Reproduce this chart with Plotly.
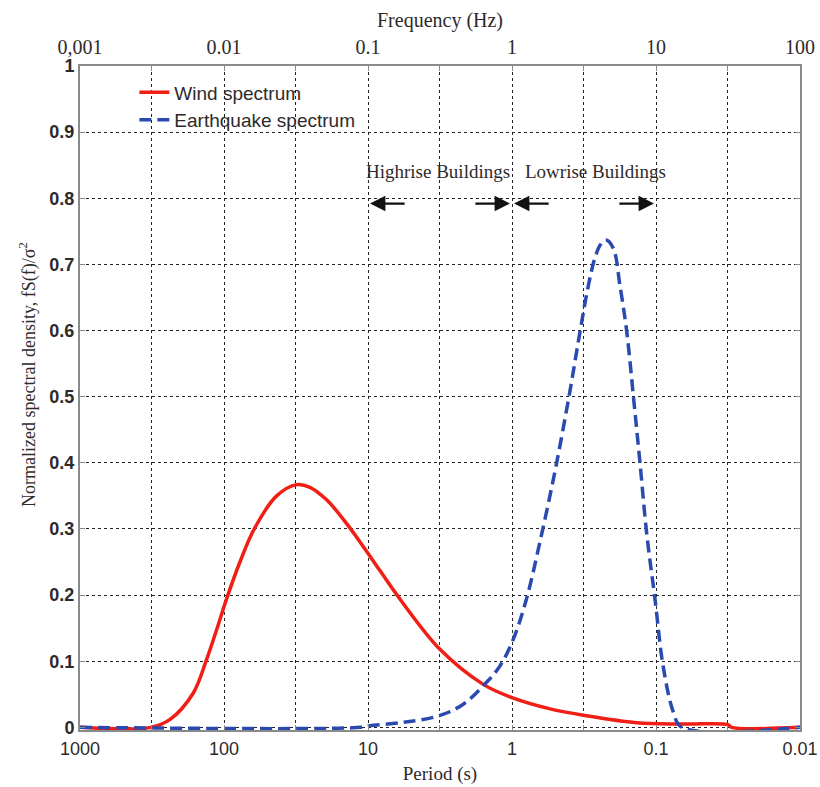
import math
import plotly.graph_objects as go

# ---------------- data ----------------
wind_freq = [0.001, 0.00311, 0.00422, 0.00612, 0.0075, 0.0089, 0.01045, 0.0129, 0.0164,
             0.0232, 0.032, 0.0395, 0.0516, 0.0711, 0.0929, 0.121, 0.176, 0.316,
             0.631, 1.0, 1.84, 3.21, 7.35, 15.8, 31.6, 33.5, 100]
wind_psd = [0, 0, 0.012, 0.052, 0.1, 0.148, 0.195, 0.25, 0.302,
            0.35, 0.367, 0.363, 0.344, 0.308, 0.273, 0.237, 0.187, 0.118,
            0.065, 0.045, 0.028, 0.018, 0.007, 0.005, 0.004, 0, 0]

quake_freq = [0.001, 0.089, 0.103, 0.176, 0.316, 0.459, 0.632, 0.826, 1.02, 1.26,
              1.58, 2.0, 2.51, 2.95, 3.39, 3.77, 4.12, 4.5, 5.06, 5.62, 6.25,
              6.97, 7.74, 8.61, 9.84, 11.2, 13.2, 15.1, 100]
quake_psd = [0, 0, 0.0025, 0.0075, 0.018, 0.035, 0.063, 0.093, 0.133, 0.194,
             0.285, 0.39, 0.505, 0.595, 0.668, 0.71, 0.73, 0.737, 0.724, 0.668, 0.60,
             0.50, 0.40, 0.294, 0.194, 0.093, 0.023, 0, 0]

# axis ticks: grid every half decade, labels every decade
grid_freq = [0.001, 0.00316, 0.01, 0.0316, 0.1, 0.316, 1, 3.16, 10, 31.6, 100]
period_labels = ["1000", "", "100", "", "10", "", "1", "", "0.1", "", "0.01"]
freq_labels = ["0,001", "", "0.01", "", "0.1", "", "1", "", "10", "", "100"]

# building zones (Hz)
highrise_range = [0.1, 1]
lowrise_range = [1, 10]
zone_arrow_level = 0.792
zone_text_level = 0.840

# ---------------- figure ----------------
serif = "Liberation Serif, Times New Roman, serif"
sans = "Liberation Sans, Arial, sans-serif"
txt = "#2e2a2a"
frame = "#8a8a8a"

fig = go.Figure()
fig.add_trace(go.Scatter(x=wind_freq, y=wind_psd, mode="lines", name="Wind spectrum",
                         line=dict(color="#f01e14", width=3.5, shape="spline", smoothing=1.0),
                         xaxis="x", yaxis="y"))
fig.add_trace(go.Scatter(x=quake_freq, y=quake_psd, mode="lines", name="Earthquake spectrum",
                         line=dict(color="#2a4ab0", width=3.5, dash="12px,6px",
                                   shape="spline", smoothing=1.0),
                         xaxis="x2", yaxis="y"))

fig.update_layout(
    width=820, height=787,
    margin=dict(l=80, r=20, t=66, b=57),
    paper_bgcolor="white", plot_bgcolor="white",
    showlegend=True,
    legend=dict(x=0.0755, y=0.989, xanchor="left", yanchor="top",
                bgcolor="rgba(0,0,0,0)", font=dict(family=sans, size=19, color=txt),
                tracegroupgap=0),
    xaxis=dict(type="log", range=[-3, 2], tickvals=grid_freq, ticktext=period_labels,
               automargin=False,
               showgrid=True, gridcolor="#222", griddash="dot", gridwidth=1,
               showline=True, linecolor=frame, linewidth=2, mirror=False,
               ticks="inside", ticklen=5, tickcolor=frame, tickwidth=1,
               tickfont=dict(family=sans, size=18, color=txt),
               ticklabelstandoff=1,
               title=dict(text="Period (s)", font=dict(family=serif, size=19, color=txt),
                          standoff=9),
               zeroline=False),
    xaxis2=dict(type="log", range=[-3, 2], overlaying="x", side="top", anchor="y",
                automargin=False,
                tickvals=grid_freq, ticktext=freq_labels, showgrid=False,
                showline=True, linecolor=frame, linewidth=2,
                ticks="inside", ticklen=5, tickcolor=frame, tickwidth=1,
                tickfont=dict(family=serif, size=20, color=txt),
                ticklabelstandoff=2,
                title=dict(text="Frequency (Hz)", font=dict(family=serif, size=20, color=txt),
                           standoff=3),
                zeroline=False),
    yaxis=dict(range=[-0.004, 1.0], tick0=0, dtick=0.1, automargin=False,
               showgrid=True, gridcolor="#222", griddash="dot", gridwidth=1,
               showline=True, linecolor=frame, linewidth=2, mirror="ticks",
               ticks="inside", ticklen=5, tickcolor=frame, tickwidth=1,
               tickfont=dict(family=sans, size=18, color=txt, weight="bold"),
               zeroline=False),
)

# y-axis title placed as rotated text
fig.add_annotation(x=-0.072, y=0.535, xref="paper", yref="paper",
                   text="Normalized spectral density, fS(f)/σ<sup>2</sup>",
                   textangle=-90, showarrow=False, xanchor="center", yanchor="middle",
                   font=dict(family=serif, size=18, color=txt))


def lg(v):
    return math.log10(v)


# zone labels
fig.add_annotation(x=lg(highrise_range[0]), y=zone_text_level, xref="x", yref="y",
                   text="Highrise Buildings", showarrow=False, xanchor="left", xshift=-4,
                   font=dict(family=serif, size=19, color=txt))
fig.add_annotation(x=lg(lowrise_range[0]), y=zone_text_level, xref="x", yref="y",
                   text="Lowrise Buildings", showarrow=False, xanchor="left", xshift=11,
                   font=dict(family=serif, size=19, color=txt))

# zone arrows (head at each zone boundary, tail a quarter decade inward)
for lo, hi in (highrise_range, lowrise_range):
    a, b = lg(lo), lg(hi)
    fig.add_annotation(x=a, y=zone_arrow_level, ax=a + 0.265, ay=zone_arrow_level,
                       xref="x", yref="y", axref="x", ayref="y", text="",
                       showarrow=True, arrowhead=2, arrowsize=1.4, arrowwidth=2.2,
                       arrowcolor="#111", standoff=2)
    fig.add_annotation(x=b, y=zone_arrow_level, ax=b - 0.265, ay=zone_arrow_level,
                       xref="x", yref="y", axref="x", ayref="y", text="",
                       showarrow=True, arrowhead=2, arrowsize=1.4, arrowwidth=2.2,
                       arrowcolor="#111", standoff=2)

fig.write_html("out.html",
               config={"displayModeBar": False},
               post_script="document.body.style.margin='0px';"
                           "document.body.style.overflow='hidden';")
